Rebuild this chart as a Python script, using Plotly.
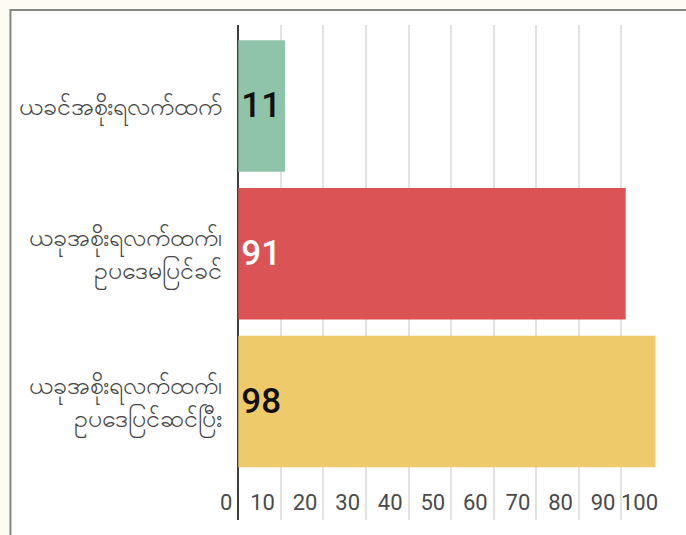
import plotly.graph_objects as go

categories = [
    "ယခင်အစိုးရလက်ထက်",
    "ယခုအစိုးရလက်ထက်၊<br>ဥပဒေမပြင်ခင်",
    "ယခုအစိုးရလက်ထက်၊<br>ဥပဒေပြင်ဆင်ပြီး",
]
values = [11, 91, 98]
bar_colors = ["#8fc4a8", "#dc5356", "#efca6b"]
text_colors = ["#111111", "#ffffff", "#111111"]
x_ticks = [0, 10, 20, 30, 40, 50, 60, 70, 80, 90, 100]

W, H = 686, 535
XMIN = -5
UNIT = 4.26  # px per unit
ZERO_PX = 238
ML = ZERO_PX + XMIN * UNIT
PR = ZERO_PX + 100 * UNIT
MR = W - PR
MT, MB = 25, 15
pw = PR - ML
ph = H - MT - MB

fig = go.Figure(
    go.Bar(
        x=values,
        y=categories,
        orientation="h",
        marker=dict(color=bar_colors, line=dict(width=0)),
        width=0.89,
        text=[str(v) for v in values],
        textposition="inside",
        insidetextanchor="start",
        textangle=0,
        textfont=dict(family="Roboto", size=35, color=text_colors, weight=500),
        hoverinfo="skip",
    )
)

# white card with gray border (cropped screenshot frame)
fig.add_shape(
    type="rect", xref="paper", yref="paper", layer="below",
    x0=(10 - ML) / pw, x1=(W + 20 - ML) / pw,
    y0=(H - MB - (H + 20)) / ph, y1=(H - MB - 10) / ph,
    fillcolor="white", line=dict(color="#858585", width=2),
)

fig.update_layout(
    width=W, height=H,
    margin=dict(l=ML, r=MR, t=MT, b=MB, pad=0, autoexpand=False),
    paper_bgcolor="#fdfbf3",
    plot_bgcolor="rgba(0,0,0,0)",
    showlegend=False,
    font=dict(family="Roboto, Noto Sans, sans-serif", color="#444444"),
    xaxis=dict(
        range=[XMIN, 100],
        tickvals=x_ticks,
        ticktext=[str(t) for t in x_ticks],
        ticklabelposition="inside left",
        ticklabelshift=-6,
        tickfont=dict(size=22, color="#4a4a4a"),
        showgrid=True, gridcolor="#e2e2e2", gridwidth=1.5,
        zeroline=True, zerolinecolor="#3c3c3c", zerolinewidth=2,
        showline=False, ticks="", fixedrange=True, automargin=False,
    ),
    yaxis=dict(
        type="category",
        categoryorder="array", categoryarray=categories,
        range=[2.802, -0.548],
        tickfont=dict(size=25, color="#444444"),
        ticks="", ticklabelstandoff=-6,
        showgrid=False, zeroline=False, showline=False,
        fixedrange=True, automargin=False,
    ),
)

fig.write_html(
    "out.html",
    config={"displayModeBar": False},
    post_script="document.body.style.margin='0';document.body.style.background='#fdfbf3';",
)
